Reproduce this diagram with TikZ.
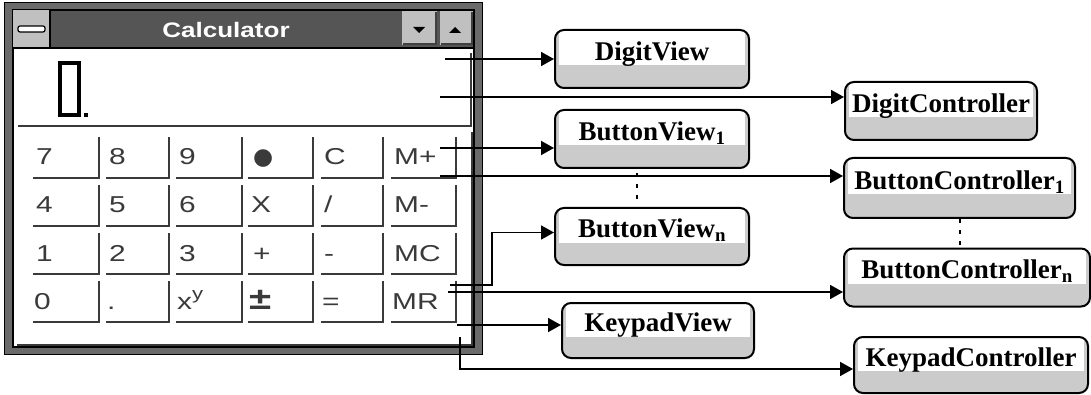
\documentclass[tikz,border=0pt]{standalone}
\usepackage{fontspec}
\usepackage{graphicx}
\setmainfont{Liberation Serif}
\newfontfamily\guifont{Liberation Sans}
\newfontfamily\symbfont{DejaVu Sans}
\usetikzlibrary{arrows.meta,calc}

\definecolor{boxgray}{HTML}{CBCBCB}
\definecolor{titlegray}{HTML}{555555}
\definecolor{btngray}{HTML}{C0C0C0}
\definecolor{framegray}{HTML}{6A6A6A}
\definecolor{keygray}{HTML}{3A3A3A}

\newcommand{\keytext}[1]{\scalebox{1.3}[1]{#1}}

\tikzset{
  mvcbox/.style={draw, line width=2pt, rounded corners=9pt, fill=boxgray,
    minimum height=58pt, inner sep=0pt, font=\bfseries\fontsize{27}{29}\selectfont,
    text height=18.5pt, text depth=16pt,
    path picture={\fill[white, sharp corners]
      ($(path picture bounding box.north west)+(4,0)$) rectangle
      ($(path picture bounding box.east)+(-4,6)$);}},
  conn/.style={line width=1.8pt, -{Triangle[length=13pt,width=14pt]}},
  gapdots/.style={line width=2pt, dash pattern=on 4pt off 7pt},
  keyline/.style={draw=keygray, line width=2pt},
  keylabel/.style={anchor=base west, inner sep=0pt, text=keygray,
    font=\guifont\fontsize{23}{23}\selectfont},
}

\begin{document}
\begin{tikzpicture}[x=1pt, y=-1pt]
  \useasboundingbox (0,0) rectangle (1091,395);

  % Calculator window: frame, title bar, client area
  \fill[framegray] (4,3) rectangle (482,354);
  \draw[line width=1pt] (4,3) rectangle (482,354);
  \fill[titlegray] (13,10) rectangle (474,47);
  \fill[white] (13,49) rectangle (474,347);
  \draw[line width=1.5pt] (13,10) rectangle (474,347);
  \draw[line width=2pt] (13,48) -- (474,48);

  % System menu box
  \fill[btngray] (13,10) rectangle (50,47);
  \draw[line width=1.5pt] (50,10) -- (50,47);
  \draw[fill=white, line width=1.2pt, rounded corners=2pt] (18,26) rectangle (45,32);

  % Minimize / maximize boxes
  \fill[btngray] (402,11) rectangle (437,45);
  \fill[btngray] (440,11) rectangle (473,45);
  \draw[gray!50!black, line width=2pt] (403,44) -- (436,44) -- (436,12);
  \draw[gray!50!black, line width=2pt] (441,44) -- (472,44) -- (472,12);
  \fill (413,27) -- (425,27) -- (419,33) -- cycle;
  \fill (449,33) -- (461,33) -- (455,27) -- cycle;

  \node[text=white, font=\guifont\bfseries\fontsize{21}{21}\selectfont] (title)
    at (226,29.5) {\scalebox{1.24}[1]{Calculator}};

  % Display with the digit
  \draw[line width=4pt] (60,63) rectangle (79,115);
  \fill (84,113) rectangle (88,117);
  \draw[keyline] (18,126) -- (471,126) -- (471,53);
  \draw[keyline] (17,345) -- (472,345) -- (472,132);

  % Keypad buttons
  \foreach \bx/\bw in {33/66,106/63,176/66,248/65,321/62,391/65}
    \foreach \by in {137,185,233,281}
      \draw[keyline] (\bx,\by+41) -- (\bx+\bw,\by+41) -- (\bx+\bw,\by);

  % Key labels, row by row
  \foreach \lx/\lbl [count=\c] in {33/7,106/8,176/9,
      250/{\scalebox{0.77}[1]{\symbfont ●}},321/C,391/M+}
    \node[keylabel] (ka\c) at (\lx+3,165) {\keytext{\lbl}};
  \foreach \lx/\lbl [count=\c] in {33/4,106/5,176/6,248/X,321/{/},391/M-}
    \node[keylabel] (kb\c) at (\lx+3,213) {\keytext{\lbl}};
  \foreach \lx/\lbl [count=\c] in {33/1,106/2,176/3,250/+,321/-,391/MC}
    \node[keylabel] (kc\c) at (\lx+3,261) {\keytext{\lbl}};
  \foreach \lx/\lbl [count=\c] in {33/0,106/.,
      176/{x\raisebox{10pt}{\fontsize{17}{17}\selectfont y}},
      248/{\bfseries\fontsize{31}{31}\selectfont ±},321/=,391/MR}
    \node[keylabel] (kd\c) at (\lx+1,309) {\keytext{\lbl}};

  % Views and controllers
  \node[mvcbox, minimum width=194pt] (dv) at (652,59) {DigitView};
  \node[mvcbox, minimum width=192pt] (dc) at (941,111) {DigitController};
  \node[mvcbox, minimum width=194pt] (bv1) at (652,139) {ButtonView\textsubscript{1}};
  \node[mvcbox, minimum width=231pt, minimum height=60pt] (bc1) at (959.5,188) {ButtonController\textsubscript{1}};
  \node[mvcbox, minimum width=194pt, minimum height=57pt] (bvn) at (652,236.5) {ButtonView\textsubscript{n}};
  \node[mvcbox, minimum width=246pt] (bcn) at (967,277.5) {ButtonController\textsubscript{n}};
  \node[mvcbox, minimum width=192pt, minimum height=55pt] (kv) at (658,330.5) {KeypadView};
  \node[mvcbox, minimum width=234pt, minimum height=56pt] (kc) at (971,365) {KeypadController};

  % Where the arrows leave the calculator
  \coordinate (dvsrc) at (445,59);
  \coordinate (dcsrc) at (440,97);
  \coordinate (bv1src) at (440,148);
  \coordinate (bc1src) at (440,176);
  \coordinate (bvnsrc) at (450,285);
  \coordinate (bcnsrc) at (448,292);
  \coordinate (kvsrc) at (457,325);
  \coordinate (kcsrc) at (460,337);

  % Arrows
  \draw[conn] (dvsrc) -- (dvsrc -| dv.west);
  \draw[conn] (dcsrc) -- (dcsrc -| dc.west);
  \draw[conn] (bv1src) -- (bv1src -| bv1.west);
  \draw[conn] (bc1src) -- (bc1src -| bc1.west);
  \draw[conn] (bvnsrc) -- ++(42,0) |- ($(bvn.west)+(0,-4)$);
  \draw[conn] (bcnsrc) -- (bcnsrc -| bcn.west);
  \draw[conn] (kvsrc) -- (kvsrc -| kv.west);
  \draw[conn] (kcsrc) |- ($(kc.west)+(0,4)$);

  % Elided instances
  \draw[gapdots] ($(bv1.south)+(-15,4)$) -- ($(bvn.north)+(-15,-4)$);
  \draw[gapdots] (bc1.south) -- (bc1.south |- bcn.north);
\end{tikzpicture}
\end{document}
